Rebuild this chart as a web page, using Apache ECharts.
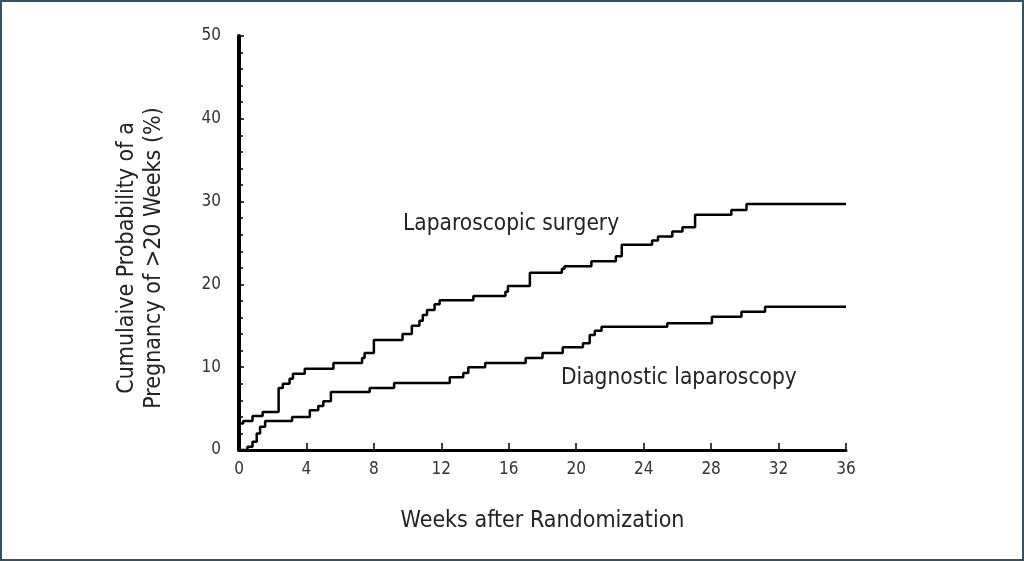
<!DOCTYPE html>
<html><head><meta charset="utf-8">
<script src="https://cdn.jsdelivr.net/npm/echarts@6/dist/echarts.min.js"></script>
<style>
html,body{margin:0;padding:0;background:#fff;}
#wrap{width:1024px;height:561px;box-sizing:border-box;border:2px solid #35515f;background:#fff;}
#c{width:1020px;height:557px;}
</style></head>
<body><div id="wrap"><div id="c"></div></div>
<script>
// Laparoscopic surgery: [weeks, cumulative %]
var surgeryWeeks = [0,0.25,0.8,1.4,2.35,2.6,3.0,3.2,3.9,5.6,7.3,7.45,8.0,9.7,10.25,10.7,10.9,11.15,11.6,11.9,13.9,15.8,15.95,17.25,19.15,19.3,20.9,22.35,22.7,24.5,24.85,25.7,26.3,27.05,29.2,30.1,36];
var surgeryPct   = [3.2,3.5,4.1,4.6,7.5,8.0,8.6,9.2,9.8,10.5,11.1,11.7,13.3,14.0,15.0,15.6,16.3,16.9,17.6,18.1,18.6,19.1,19.8,21.4,21.9,22.2,22.8,23.4,24.8,25.3,25.8,26.4,26.9,28.4,29.0,29.7,29.7];
// Diagnostic laparoscopy
var diagWeeks = [0,0.5,0.8,1.05,1.25,1.55,3.15,4.2,4.7,5.0,5.45,7.75,9.2,12.5,13.3,13.6,14.6,17.0,18.0,19.2,20.4,20.8,21.1,21.5,25.4,28.05,29.8,31.2,36];
var diagPct   = [0,0.4,1.0,2.0,2.8,3.5,4.0,4.8,5.3,5.9,7.0,7.5,8.1,8.8,9.3,10.0,10.5,11.1,11.7,12.4,12.9,13.9,14.4,14.9,15.3,16.1,16.7,17.3,17.3];
var xTicks = [0,4,8,12,16,20,24,28,32,36];
var yTicks = [0,10,20,30,40,50];
var seriesNames = ['Laparoscopic surgery','Diagnostic laparoscopy'];
var xTitle = 'Weeks after Randomization';
var yTitle = 'Cumulaive Probability of a\nPregnancy of >20 Weeks (%)';

function zip(a,b){return a.map(function(v,i){return [v,b[i]];});}
var FONT = '"DejaVu Sans Condensed",sans-serif';
var chart = echarts.init(document.getElementById('c'));
chart.setOption({
  animation:false,
  grid:{left:237,right:176,top:34,bottom:109},
  xAxis:{type:'value',min:0,max:36,interval:4,
    axisLine:{lineStyle:{color:'#000',width:3}},
    axisTick:{inside:true,length:7,lineStyle:{color:'#000',width:1.5}},
    axisLabel:{color:'#333',fontSize:17,fontFamily:FONT,margin:11,
      formatter:function(v){return xTicks.indexOf(v)>=0?String(v):'';}},
    splitLine:{show:false},
    name:xTitle,nameLocation:'middle',nameGap:60,
    nameTextStyle:{color:'#222',fontSize:23,fontFamily:FONT}},
  yAxis:{type:'value',min:0,max:50,interval:10,
    axisLine:{show:true,lineStyle:{color:'#000',width:4}},
    axisTick:{show:true,inside:true,length:5,lineStyle:{color:'#000',width:1.5}},
    minorTick:{show:true,splitNumber:5,length:4,lineStyle:{color:'#000',width:1.5}},
    axisLabel:{color:'#333',fontSize:17,fontFamily:FONT,margin:18,
      formatter:function(v){return yTicks.indexOf(v)>=0?String(v):'';}},
    splitLine:{show:false},
    name:yTitle,nameLocation:'middle',nameGap:71,
    nameTextStyle:{color:'#222',fontSize:23,fontFamily:FONT,lineHeight:27,padding:[0,30,0,0]}},
  series:[
    {name:seriesNames[0],type:'line',step:'end',symbol:'none',data:zip(surgeryWeeks,surgeryPct),
     lineStyle:{color:'#000',width:2.5}},
    {name:seriesNames[1],type:'line',step:'end',symbol:'none',data:zip(diagWeeks,diagPct),
     lineStyle:{color:'#000',width:2.5}}
  ],
  graphic:[
    {type:'text',left:401,top:211,style:{text:seriesNames[0],fill:'#222',font:'22.5px '+FONT}},
    {type:'text',left:559,top:365,style:{text:seriesNames[1],fill:'#222',font:'22.5px '+FONT}}
  ]
});
</script></body></html>
